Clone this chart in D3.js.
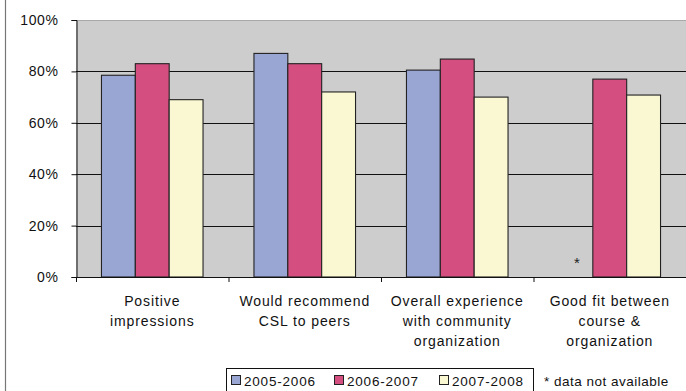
<!DOCTYPE html>
<html><head><meta charset="utf-8">
<script src="https://cdn.jsdelivr.net/npm/d3@7"></script>
<style>html,body{margin:0;padding:0;background:#fff;}svg{display:block;}</style>
</head><body>
<svg id="c" width="686" height="391"></svg>
<script>
const categories = [
  ["Positive", "impressions"],
  ["Would recommend", "CSL to peers"],
  ["Overall experience", "with community", "organization"],
  ["Good fit between", "course &", "organization"]
];
const seriesNames = ["2005-2006", "2006-2007", "2007-2008"];
const s2005 = [0.785, 0.87, 0.805, null];
const s2006 = [0.83, 0.83, 0.848, 0.77];
const s2007 = [0.69, 0.72, 0.70, 0.708];
const colors = ["#99A5D3", "#D44F80", "#FAF7D3"];
const yTicks = [0, 0.2, 0.4, 0.6, 0.8, 1.0];
const noteText = "* data not available";

const svg = d3.select("#c");
const font = "'Liberation Sans', Arial, sans-serif";
const L = 76, R = 686, T = 20, B = 277;

const x0 = d3.scaleBand().domain(d3.range(categories.length)).range([L, R]).padding(0);
const step = x0.bandwidth();
const pad = step * 0.167;
const x1 = d3.scaleBand().domain(seriesNames).range([pad, step - pad]).padding(0);
const y = d3.scaleLinear().domain([0, 1]).range([B, T]);

// frame left line
svg.append("line").attr("x1", 5.5).attr("x2", 5.5).attr("y1", 0).attr("y2", 391)
  .attr("stroke", "#777").attr("stroke-width", 1.2);

// plot area
svg.append("rect").attr("x", L).attr("y", T).attr("width", R - L).attr("height", B - T).attr("fill", "#CCCDCC");
svg.append("line").attr("x1", L).attr("x2", R).attr("y1", T + 0.5).attr("y2", T + 0.5).attr("stroke", "#A8AAA8").attr("stroke-width", 1.2);

// gridlines
svg.append("g").selectAll("line").data(yTicks.filter(d => d > 0 && d < 1)).join("line")
  .attr("x1", L).attr("x2", R)
  .attr("y1", d => Math.round(y(d)) + 0.5).attr("y2", d => Math.round(y(d)) + 0.5)
  .attr("stroke", "#111").attr("stroke-width", 1.2);

// bars
const allSeries = [s2005, s2006, s2007];
allSeries.forEach((vals, si) => {
  svg.append("g").selectAll("rect").data(vals.map((v, i) => ({v, i})).filter(d => d.v != null)).join("rect")
    .attr("x", d => x0(d.i) + x1(seriesNames[si]))
    .attr("y", d => y(d.v))
    .attr("width", x1.bandwidth())
    .attr("height", d => B - y(d.v))
    .attr("fill", colors[si])
    .attr("stroke", "#222").attr("stroke-width", 1.1);
});

// asterisk for missing
s2005.forEach((v, i) => {
  if (v == null) {
    svg.append("text").attr("x", x0(i) + x1(seriesNames[0]) + x1.bandwidth() / 2 + 1)
      .attr("y", 268).attr("text-anchor", "middle")
      .attr("font-family", font).attr("font-size", 15).attr("fill", "#222").text("*");
  }
});

// y axis
const yAxis = d3.axisLeft(y).tickValues(yTicks).tickFormat(d3.format(".0%")).tickSize(5).tickPadding(13);
const gy = svg.append("g").attr("transform", `translate(${L + 0.5},0)`).call(yAxis);
gy.select(".domain").attr("stroke", "#111");
gy.selectAll(".tick line").attr("stroke", "#111");
gy.selectAll(".tick text").attr("font-family", font).attr("font-size", 14).attr("fill", "#111")
  .attr("letter-spacing", 0.6);

// x axis
const ticks = d3.range(categories.length).map(i => x0(i));
svg.append("line").attr("x1", L).attr("x2", R).attr("y1", B + 0.5).attr("y2", B + 0.5).attr("stroke", "#111").attr("stroke-width", 1.2);
svg.append("g").selectAll("line").data(ticks).join("line")
  .attr("x1", d => d + 0.5).attr("x2", d => d + 0.5).attr("y1", B).attr("y2", B + 5)
  .attr("stroke", "#111");

// category labels
categories.forEach((lines, i) => {
  const t = svg.append("text").attr("text-anchor", "middle")
    .attr("font-family", font).attr("font-size", 14).attr("fill", "#111").attr("letter-spacing", 0.9);
  lines.forEach((ln, j) => {
    t.append("tspan").attr("x", x0(i) + step / 2).attr("y", 305.5 + j * 20).text(ln);
  });
});

// legend
svg.append("rect").attr("x", 226.5).attr("y", 368.5).attr("width", 307).attr("height", 30)
  .attr("fill", "none").attr("stroke", "#111").attr("stroke-width", 1);
const legX = [231, 334, 439];
seriesNames.forEach((name, i) => {
  svg.append("rect").attr("x", legX[i] + 0.5).attr("y", 375.5).attr("width", 9).attr("height", 9)
    .attr("fill", colors[i]).attr("stroke", "#222").attr("stroke-width", 1);
  svg.append("text").attr("x", legX[i] + 13).attr("y", 385.5)
    .attr("font-family", font).attr("font-size", 13.5).attr("fill", "#111").attr("letter-spacing", 0.8).text(name);
});
svg.append("text").attr("x", 544).attr("y", 385.5)
  .attr("font-family", font).attr("font-size", 13.5).attr("fill", "#111").attr("letter-spacing", 0.5).text(noteText);
</script>
</body></html>
